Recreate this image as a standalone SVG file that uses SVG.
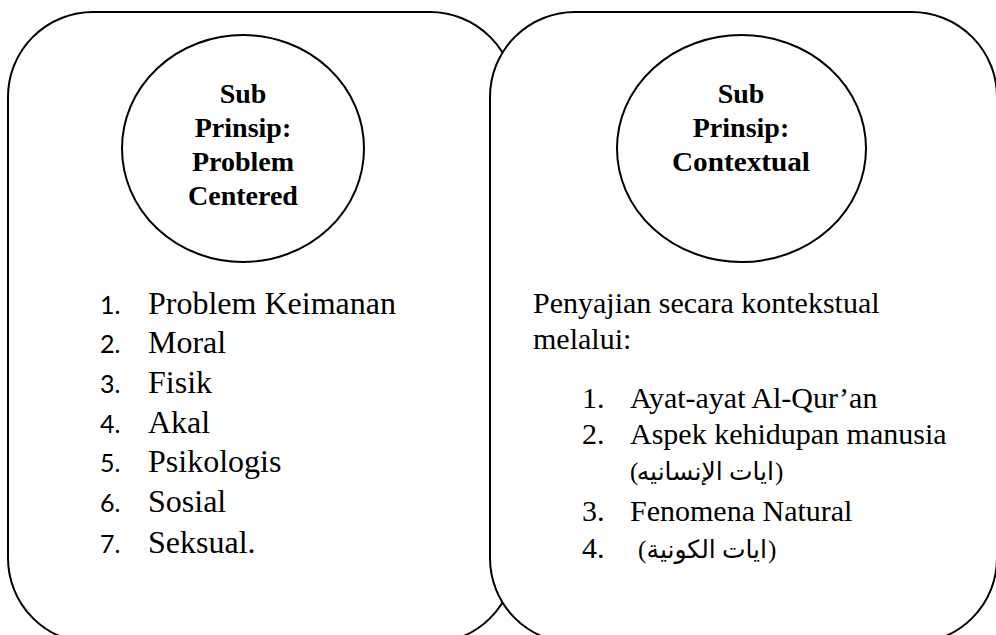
<svg xmlns="http://www.w3.org/2000/svg" width="996" height="635" viewBox="0 0 996 635">
<style>
.box{fill:#fff;stroke:#000;stroke-width:2}
.circ{fill:#fff;stroke:#000;stroke-width:2}
.title{font-family:"Liberation Serif","Times New Roman",serif;font-weight:bold;font-size:28px;text-anchor:middle;fill:#000}
.body{font-family:"Liberation Serif","Times New Roman",serif;font-size:30px;fill:#000}
.left{font-size:32px}
.num{font-family:Lato,"Liberation Sans",sans-serif;font-size:25px;fill:#000}
.ar{font-family:"Liberation Serif","DejaVu Sans",serif;font-size:25px;fill:#000}
.arw{text-anchor:end}
</style>
<rect width="996" height="635" fill="#fff"/>
<g id="box-left">
<rect class="box" x="8" y="12" width="507" height="631" rx="85" ry="85"/>
</g>
<g id="box-right">
<rect class="box" x="490" y="12" width="507" height="631" rx="85" ry="85"/>
</g>
<g id="node-problem-centered">
<ellipse class="circ" cx="243" cy="148.5" rx="121" ry="113.5"/>
<text class="title" x="243" y="103">Sub</text>
<text class="title" x="243" y="137">Prinsip:</text>
<text class="title" x="243" y="171">Problem</text>
<text class="title" x="243" y="205">Centered</text>
</g>
<g id="node-contextual">
<ellipse class="circ" cx="741.5" cy="148.5" rx="124.5" ry="113.5"/>
<text class="title" x="741" y="103">Sub</text>
<text class="title" x="741" y="137">Prinsip:</text>
<text class="title" x="741" y="171" textLength="138" lengthAdjust="spacingAndGlyphs">Contextual</text>
</g>
<g id="list-left">
<text class="num" x="100" y="314">1.</text><text class="body left" x="148" y="314">Problem Keimanan</text>
<text class="num" x="100" y="353">2.</text><text class="body left" x="148" y="353">Moral</text>
<text class="num" x="100" y="393">3.</text><text class="body left" x="148" y="393">Fisik</text>
<text class="num" x="100" y="433">4.</text><text class="body left" x="148" y="433">Akal</text>
<text class="num" x="100" y="472">5.</text><text class="body left" x="148" y="472">Psikologis</text>
<text class="num" x="100" y="512">6.</text><text class="body left" x="148" y="512">Sosial</text>
<text class="num" x="100" y="553">7.</text><text class="body left" x="148" y="553">Seksual.</text>
</g>
<g id="list-right">
<text class="body" x="533" y="313">Penyajian secara kontekstual</text>
<text class="body" x="533" y="349">melalui:</text>
<text class="body" x="582" y="408">1.</text><text class="body" x="630" y="408">Ayat-ayat Al-Qur’an</text>
<text class="body" x="582" y="444">2.</text><text class="body" x="630" y="444">Aspek kehidupan manusia</text>
<g id="arabic-1">
<text class="ar" x="630" y="480">(</text>
<text class="ar arw" x="774" y="480">ايات الإنسانيه</text>
<text class="ar" x="775" y="480">)</text>
</g>
<text class="body" x="582" y="521">3.</text><text class="body" x="630" y="521">Fenomena Natural</text>
<text class="body" x="582" y="558">4.</text>
<g id="arabic-2">
<text class="ar" x="638" y="558">(</text>
<text class="ar arw" x="767" y="558">ايات الكونية</text>
<text class="ar" x="768" y="558">)</text>
</g>
</g>
<g id="connectors"/>
</svg>
